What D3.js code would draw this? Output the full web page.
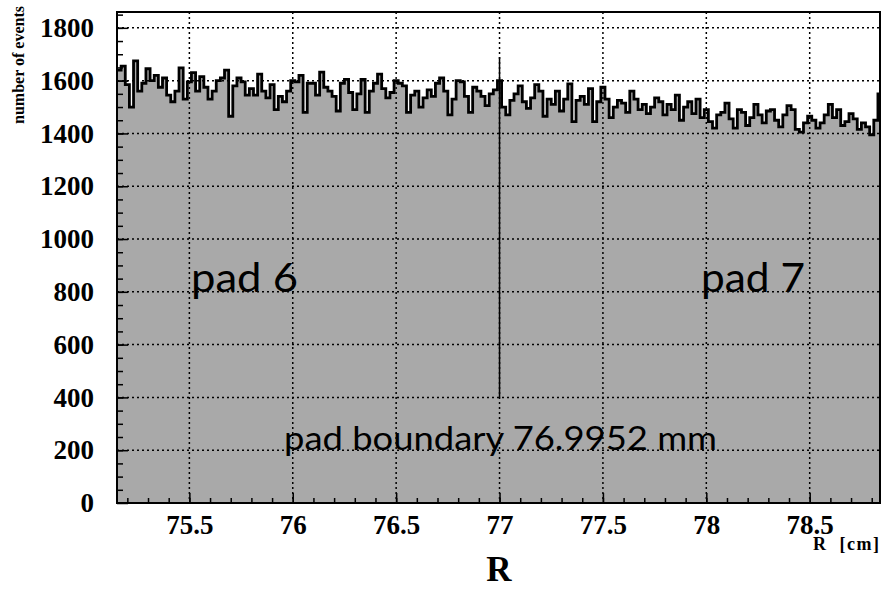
<!DOCTYPE html>
<html>
<head>
<meta charset="utf-8">
<script src="https://cdn.jsdelivr.net/npm/d3@7"></script>
<style>
  body { margin: 0; background: #fff; }
  svg { display: block; }
  .serif { font-family: "Liberation Serif", "Times New Roman", serif; font-weight: bold; }
</style>
</head>
<body>
<div id="chart"></div>
<script>
// histogram bins: R from 75.15 cm, 0.02 cm wide
var binStart = 75.15;
var binWidth = 0.02;
var counts = [
  1640, 1655, 1585, 1500, 1675, 1560, 1590, 1645, 1600, 1620,
  1575, 1610, 1545, 1520, 1560, 1648, 1530, 1595, 1630, 1560,
  1615, 1575, 1530, 1560, 1600, 1610, 1640, 1465, 1580, 1610,
  1595, 1545, 1570, 1545, 1625, 1560, 1535, 1585, 1490, 1540,
  1520, 1560, 1600, 1595, 1620, 1480, 1590, 1590, 1545, 1632,
  1575, 1560, 1540, 1485, 1590, 1605, 1555, 1490, 1550, 1605,
  1480, 1560, 1590, 1625, 1570, 1535, 1555, 1600, 1590, 1580,
  1480, 1545, 1560, 1500, 1535, 1565, 1540, 1590, 1610, 1560,
  1470, 1530, 1600, 1595, 1540, 1480, 1575, 1560, 1540, 1505,
  1550, 1565, 1600, 1500, 1470, 1525, 1550, 1580, 1520, 1495,
  1535, 1585, 1560, 1465, 1530, 1510, 1560, 1485, 1530, 1588,
  1445, 1525, 1540, 1510, 1570, 1445, 1520, 1575, 1530, 1460,
  1500, 1525, 1515, 1480, 1560, 1530, 1490, 1510, 1475, 1500,
  1535, 1520, 1470, 1510, 1490, 1545, 1450, 1500, 1520, 1475,
  1530, 1460, 1490, 1445, 1420, 1470, 1480, 1515, 1455, 1420,
  1490, 1480, 1430, 1460, 1510, 1470, 1440, 1485, 1490, 1450,
  1425, 1470, 1505, 1490, 1415, 1405, 1440, 1465, 1450, 1420,
  1440, 1470, 1510, 1460, 1490, 1430, 1445, 1475, 1455, 1415,
  1440, 1425, 1395, 1450, 1550
];

var xMajor = [75.5, 76, 76.5, 77, 77.5, 78, 78.5];
var yMajor = [0, 200, 400, 600, 800, 1000, 1200, 1400, 1600, 1800];

// pad boundary marker (x, from, to)
var boundaryX = 77;
var boundaryRange = [400, 1690];

var svgWidth = 881;
var svgHeight = 589;

var margin = {
  top: 12,
  right: 1,
  bottom: 86,
  left: 117
};

var width = svgWidth - margin.left - margin.right;
var height = svgHeight - margin.top - margin.bottom;

var svg = d3.select("#chart")
  .append("svg")
  .attr("width", svgWidth)
  .attr("height", svgHeight);

var chartGroup = svg.append("g")
  .attr("transform", `translate(${margin.left}, ${margin.top})`);

var x = d3.scaleLinear()
  .domain([75.15, 78.84])
  .range([0, width]);

var y = d3.scaleLinear()
  .domain([0, 1860])
  .range([height, 0]);

// step points, last bin closed at its right edge
var pts = counts.map((c, i) => [binStart + i * binWidth, c]);
pts.push([binStart + counts.length * binWidth, counts[counts.length - 1]]);

chartGroup.append("path")
  .datum(pts)
  .attr("fill", "#a9a9a9")
  .attr("d", d3.area()
    .curve(d3.curveStepAfter)
    .x(d => x(d[0]))
    .y0(y(0))
    .y1(d => y(d[1])));

// dotted grid
chartGroup.selectAll("line.gx")
  .data(xMajor)
  .enter()
  .append("line")
  .attr("x1", d => x(d))
  .attr("x2", d => x(d))
  .attr("y1", 0)
  .attr("y2", height)
  .attr("stroke", "#000")
  .attr("stroke-width", 1.5)
  .attr("stroke-dasharray", "2,3");

chartGroup.selectAll("line.gy")
  .data(yMajor.slice(1))
  .enter()
  .append("line")
  .attr("x1", 0)
  .attr("x2", width)
  .attr("y1", d => y(d))
  .attr("y2", d => y(d))
  .attr("stroke", "#000")
  .attr("stroke-width", 1.5)
  .attr("stroke-dasharray", "2,3");

// histogram outline
chartGroup.append("path")
  .datum(pts)
  .attr("fill", "none")
  .attr("stroke", "#000")
  .attr("stroke-width", 2.8)
  .attr("d", d3.line()
    .curve(d3.curveStepAfter)
    .x(d => x(d[0]))
    .y(d => y(d[1])));

// boundary line
chartGroup.append("line")
  .attr("x1", x(boundaryX))
  .attr("x2", x(boundaryX))
  .attr("y1", y(boundaryRange[0]))
  .attr("y2", y(boundaryRange[1]))
  .attr("stroke", "#000")
  .attr("stroke-width", 1.5);

// axes, ticks pointing inward
var bottomAxis = d3.axisBottom(x).tickValues(xMajor).tickSize(-10).tickPadding(12).tickFormat(d3.format("~g"));
var bottomMinor = d3.axisBottom(x).tickValues(d3.range(75.2, 78.85, 0.1)).tickSize(-5).tickFormat("");
var leftAxis = d3.axisLeft(y).tickValues(yMajor).tickSize(-11).tickPadding(23).tickFormat(d3.format("d"));
var leftMinor = d3.axisLeft(y).tickValues(d3.range(50, 1860, 50)).tickSize(-6).tickFormat("");

[bottomAxis, bottomMinor].forEach(function(ax) {
  chartGroup.append("g")
    .attr("class", "axis")
    .attr("transform", `translate(0, ${height})`)
    .call(ax);
});
[leftAxis, leftMinor].forEach(function(ax) {
  chartGroup.append("g")
    .attr("class", "axis")
    .call(ax);
});

chartGroup.selectAll(".axis .domain").remove();
chartGroup.selectAll(".axis")
  .attr("font-family", null)
  .attr("font-size", null);
chartGroup.selectAll(".axis line")
  .attr("stroke", "#000")
  .attr("stroke-width", 1.5);
chartGroup.selectAll(".axis text")
  .attr("class", "serif")
  .attr("fill", "#000")
  .style("font-size", "27px");

// frame
chartGroup.append("rect")
  .attr("width", width)
  .attr("height", height)
  .attr("fill", "none")
  .attr("stroke", "#000")
  .attr("stroke-width", 2);

// labels in the plot
var padFont = "Lato, 'DejaVu Sans', sans-serif";
chartGroup.append("text")
  .attr("x", 191 - margin.left)
  .attr("y", 292 - margin.top)
  .attr("textLength", 107)
  .attr("lengthAdjust", "spacingAndGlyphs")
  .style("font-family", padFont)
  .style("font-size", "40px")
  .text("pad 6");

chartGroup.append("text")
  .attr("x", 701 - margin.left)
  .attr("y", 292 - margin.top)
  .attr("textLength", 104)
  .attr("lengthAdjust", "spacingAndGlyphs")
  .style("font-family", padFont)
  .style("font-size", "40px")
  .text("pad 7");

chartGroup.append("text")
  .attr("x", 284 - margin.left)
  .attr("y", 450 - margin.top)
  .attr("textLength", 433)
  .attr("lengthAdjust", "spacingAndGlyphs")
  .style("font-family", padFont)
  .style("font-size", "33px")
  .text("pad boundary 76.9952 mm");

// axis titles
svg.append("text")
  .attr("class", "serif")
  .attr("transform", "rotate(-90)")
  .attr("x", -65)
  .attr("y", 24)
  .attr("text-anchor", "middle")
  .style("font-size", "16px")
  .text("number of events");

svg.append("text")
  .attr("class", "serif")
  .attr("x", 813)
  .attr("y", 550)
  .attr("textLength", 66)
  .attr("lengthAdjust", "spacing")
  .style("font-size", "18px")
  .style("white-space", "pre")
  .text("R  [cm]");

svg.append("text")
  .attr("class", "serif")
  .attr("x", 499)
  .attr("y", 581)
  .attr("text-anchor", "middle")
  .style("font-size", "35px")
  .text("R");
</script>
</body>
</html>
